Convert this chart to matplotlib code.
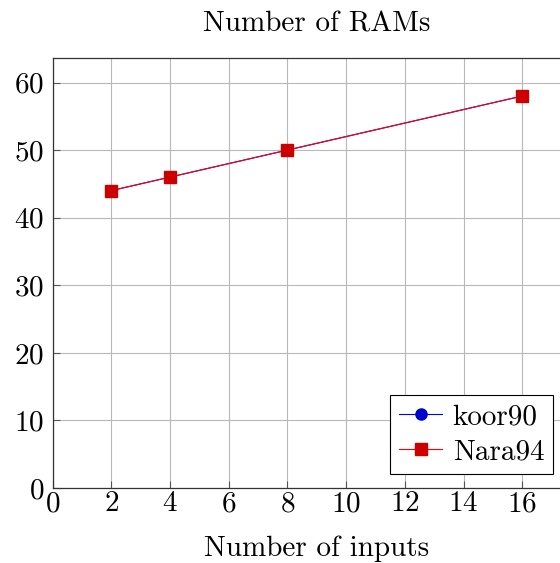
import matplotlib
matplotlib.use("Agg")
import matplotlib.pyplot as plt

# data
inputs = [2, 4, 8, 16]
koor90 = [44, 46, 50, 58]
nara94 = [44, 46, 50, 58]

plt.rcParams["font.family"] = "serif"
plt.rcParams["font.serif"] = ["cmr10"]
plt.rcParams["mathtext.fontset"] = "cm"
plt.rcParams["axes.formatter.use_mathtext"] = True

fs = 21
fig = plt.figure(figsize=(5.6, 5.63), dpi=100)
# axes runs past the right edge of the picture, as in the reference
ax = fig.add_axes([52.5 / 560, 1 - 488 / 563, (18 * 29.36) / 560, (488 - 57.5) / 563])

ax.plot(inputs, koor90, color="blue", lw=0.8, marker="o", ms=8,
        mfc=(0, 0, 0.8), mec=(0, 0, 0.8), label="koor90")
ax.plot(inputs, nara94, color="red", lw=0.8, marker="s", ms=8,
        mfc=(0.8, 0, 0), mec=(0.8, 0, 0), label="Nara94")

ax.set_xlim(0, 18)
ax.set_ylim(0, 63.7)
ax.set_xticks(range(0, 18, 2))
ax.set_yticks(range(0, 61, 10))
ax.grid(True, color="#b8b8b8", lw=0.8)
ax.set_axisbelow(True)
ax.tick_params(direction="in", length=5, width=0.8, color="#555555",
               labelsize=fs)
ax.tick_params(axis="x", pad=2)
ax.tick_params(axis="y", pad=6)
for s in ax.spines.values():
    s.set_linewidth(0.9)
    s.set_color("#333333")

ax.set_xlabel("Number of inputs", fontsize=fs, labelpad=13)
ax.set_title("Number of RAMs", fontsize=fs, pad=19)

leg = ax.legend(loc="lower right", bbox_to_anchor=(553 / 560, 1 - 474 / 563),
                bbox_transform=fig.transFigure, fontsize=fs, fancybox=False,
                edgecolor="black", framealpha=1, borderpad=0.3,
                handlelength=1.5, handletextpad=0.35, labelspacing=0.3,
                borderaxespad=0)
leg.get_frame().set_linewidth(0.8)

fig.savefig("out.png", dpi=100)
